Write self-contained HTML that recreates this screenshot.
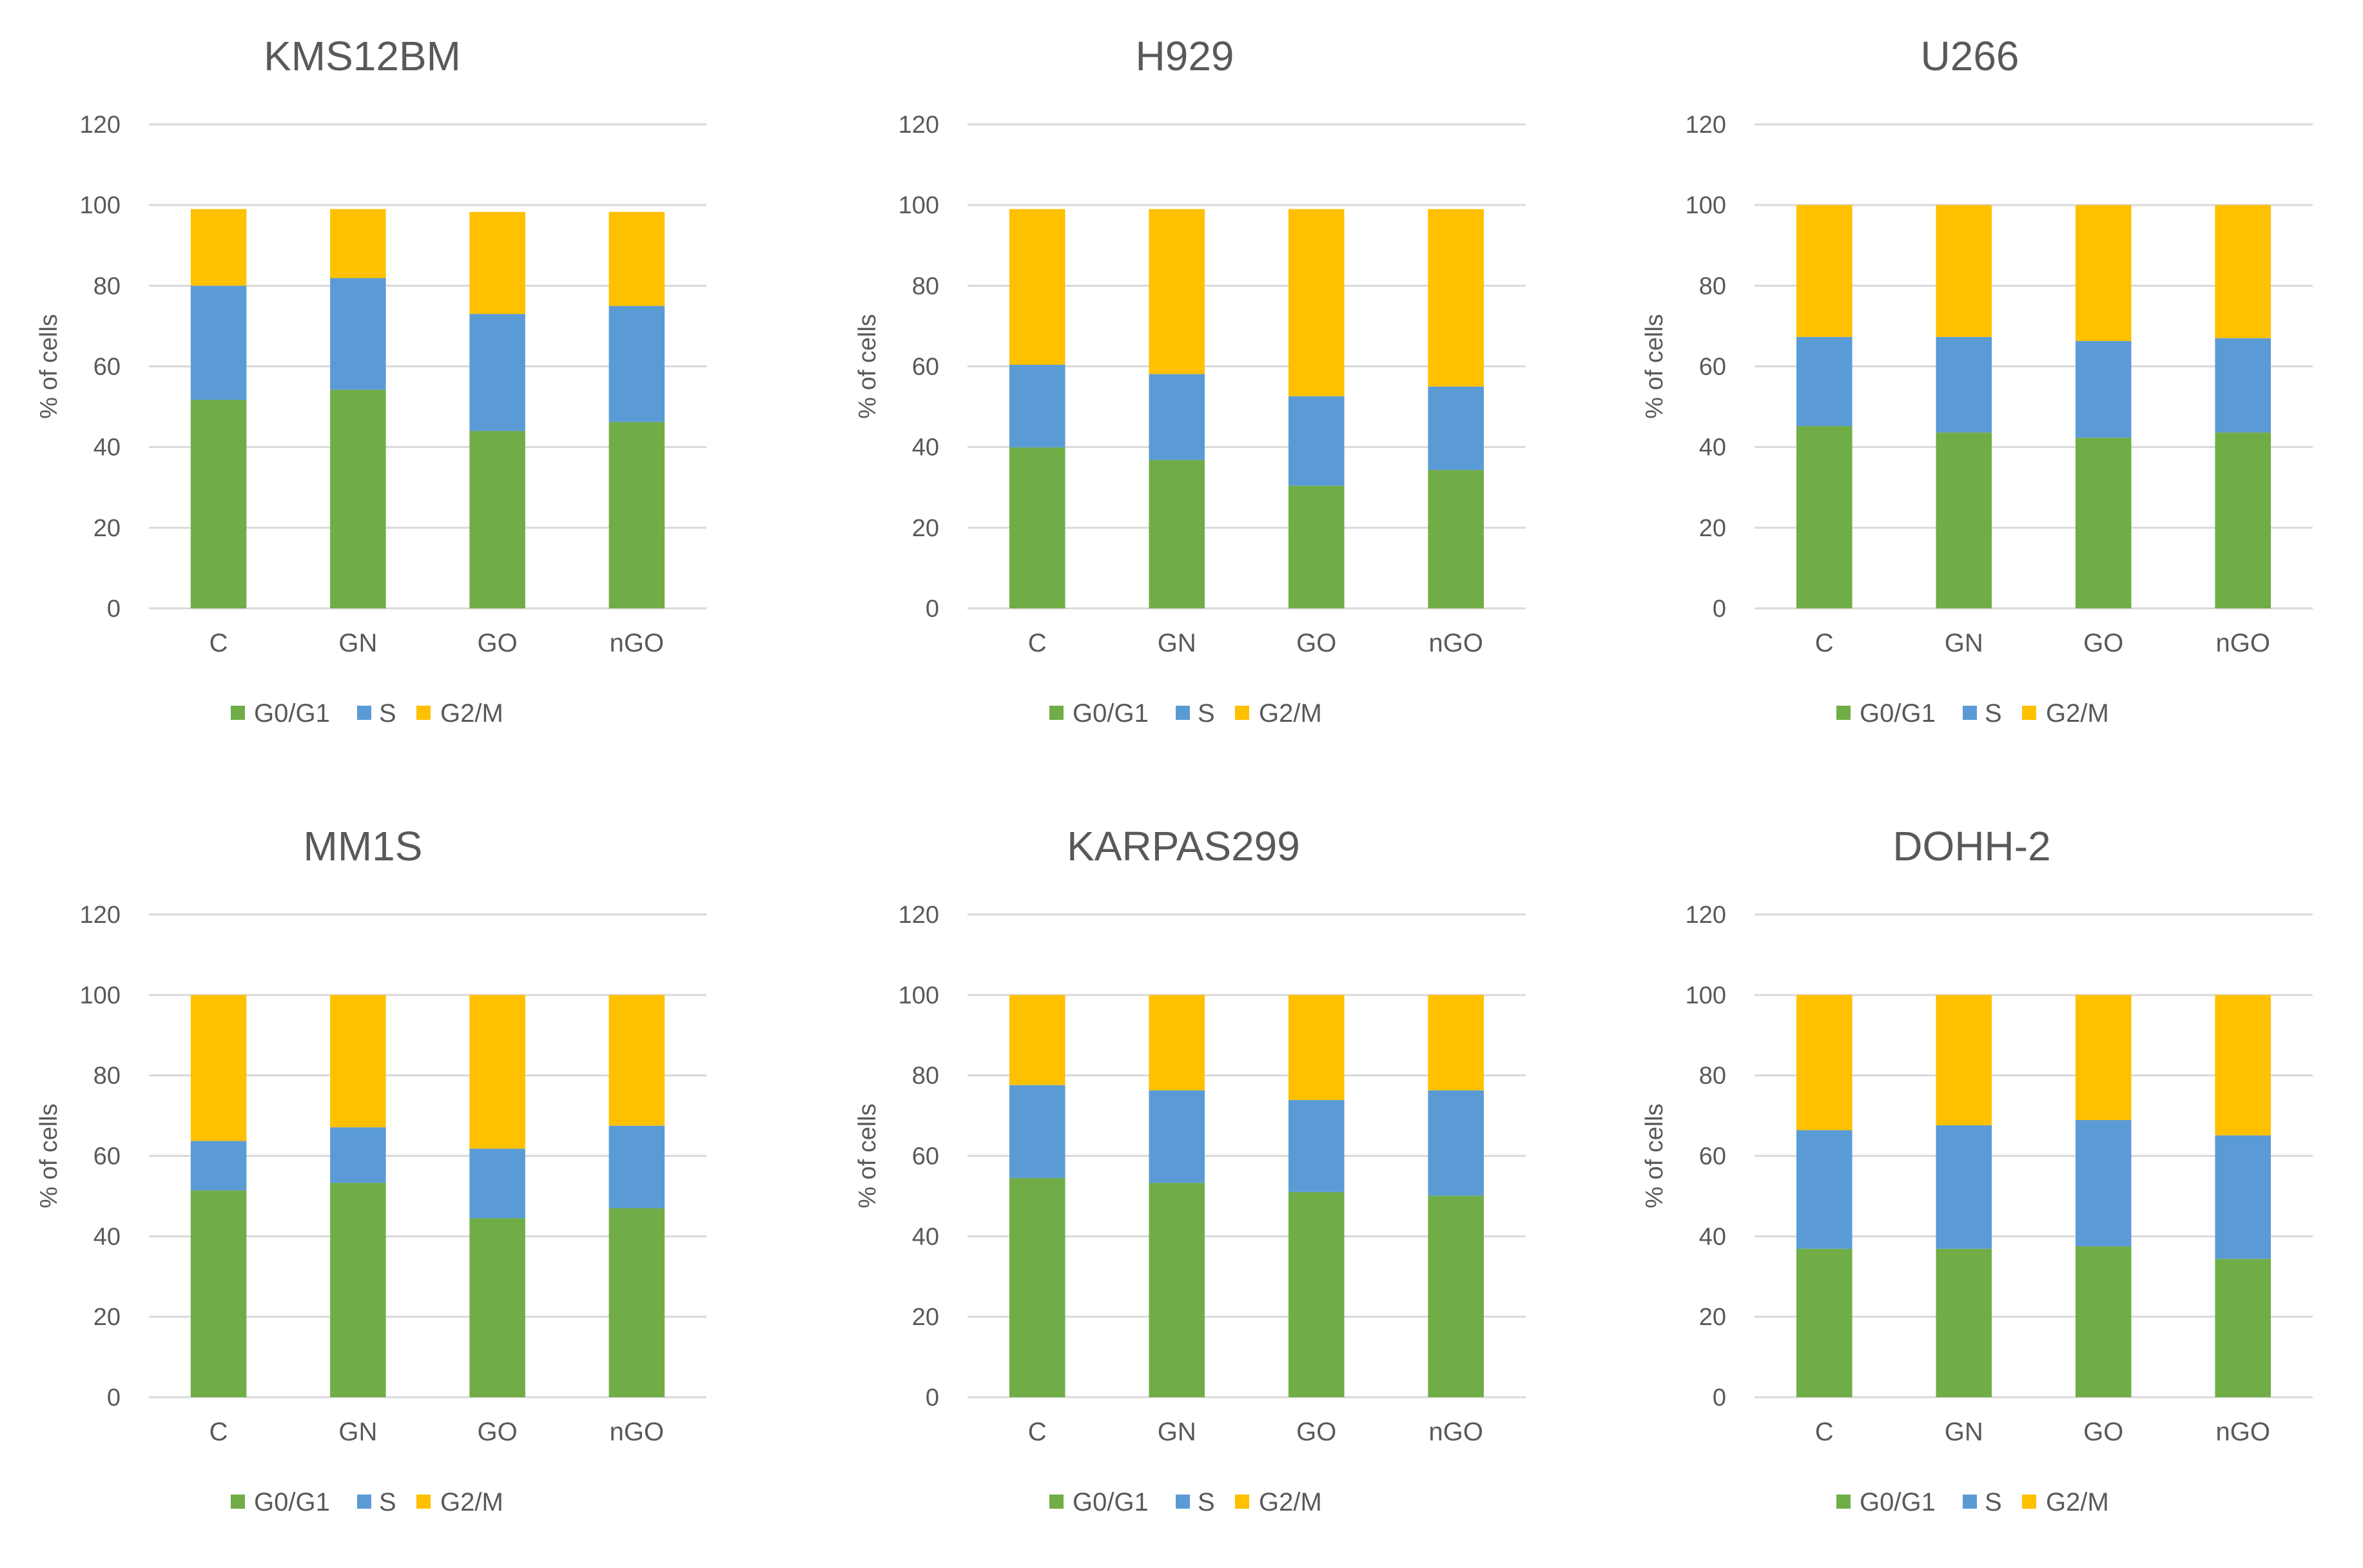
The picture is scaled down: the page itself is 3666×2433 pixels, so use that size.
<!DOCTYPE html>
<html><head><meta charset="utf-8"><style>
html,body{margin:0;padding:0;background:#fff;}
svg{display:block;}
text{font-family:"Liberation Sans",sans-serif;fill:#595959;}
</style></head><body>
<svg id="chart" width="3666" height="2433" viewBox="0 0 3666 2433" xmlns="http://www.w3.org/2000/svg"></svg>
<script>
const categories = ["C","GN","GO","nGO"];
const yTicks = [0,20,40,60,80,100,120];
const seriesNames = ["G0/G1","S","G2/M"];
const panelTitles = ["KMS12BM","H929","U266","MM1S","KARPAS299","DOHH-2"];
const g0KMS = [51.7,54.2,44,46.2];
const sKMS  = [28.3,27.7,29,28.8];
const g2KMS = [19,17.1,25.3,23.3];
const g0H929 = [39.9,36.8,30.4,34.3];
const sH929  = [20.5,21.3,22.2,20.7];
const g2H929 = [38.6,40.9,46.4,44];
const g0U266 = [45.2,43.6,42.3,43.6];
const sU266  = [22.1,23.7,24,23.4];
const g2U266 = [32.7,32.7,33.7,33];
const g0MM1S = [51.4,53.3,44.5,47];
const sMM1S  = [12.3,13.8,17.3,20.5];
const g2MM1S = [36.3,32.9,38.2,32.5];
const g0KAR = [54.5,53.3,51,50.1];
const sKAR  = [23.1,23,22.9,26.2];
const g2KAR = [22.4,23.7,26.1,23.7];
const g0DOHH = [36.9,36.9,37.5,34.4];
const sDOHH  = [29.5,30.7,31.4,30.7];
const g2DOHH = [33.6,32.4,31.1,34.9];

const panelData = [
  [g0KMS,sKMS,g2KMS],[g0H929,sH929,g2H929],[g0U266,sU266,g2U266],
  [g0MM1S,sMM1S,g2MM1S],[g0KAR,sKAR,g2KAR],[g0DOHH,sDOHH,g2DOHH]
];
const colors = ["#70AD47","#5B9BD5","#FFC000"];
const boxes = [
  {l:231,r:1096,t:193,b:944,tc:562},{l:1501,r:2367,t:193,b:944,tc:1838},{l:2722,r:3588,t:193,b:944,tc:3056},
  {l:231,r:1096,t:1419,b:2168,tc:563},{l:1501,r:2367,t:1419,b:2168,tc:1836},{l:2722,r:3588,t:1419,b:2168,tc:3059}
];
const NS="http://www.w3.org/2000/svg";
const svg=document.getElementById("chart");
function mk(tag,attrs,parent,txt){
  const e=document.createElementNS(NS,tag);
  for(const k in attrs) e.setAttribute(k,attrs[k]);
  if(txt!==undefined) e.textContent=txt;
  parent.appendChild(e); return e;
}
boxes.forEach((bx,pi)=>{
  const g=mk("g",{},svg);
  
  
  const yScale=v=>bx.b-(v/120)*(bx.b-bx.t);
  const band=(bx.r-bx.l)/categories.length;
  const xCenter=i=>bx.l+band*(i+0.5);
  const bw=band*0.4;
  const t=mk("text",{x:bx.tc,y:bx.t-84,"text-anchor":"middle","font-size":64},g,panelTitles[pi]);
  
  
  yTicks.forEach(v=>{
    const ln=mk("line",{x1:bx.l,x2:bx.r,y1:yScale(v),y2:yScale(v),stroke:"#d9d9d9","stroke-width":3},g);
    
    
    const tl=mk("text",{x:bx.l-44,y:yScale(v)+13,"text-anchor":"end","font-size":38},g,String(v));
    
    
  });
  const yt=mk("text",{x:0,y:0,"text-anchor":"middle","font-size":38,transform:`translate(${bx.l-143},${(bx.t+bx.b)/2}) rotate(-90)`},g,"% of cells");
  
  
  const d=panelData[pi];
  categories.forEach((c,i)=>{
    let base=0;
    d.forEach((ser,si)=>{
      const v=ser[i];
      const r=mk("rect",{x:xCenter(i)-bw/2,y:yScale(base+v),width:bw,height:yScale(base)-yScale(base+v),fill:colors[si]},g);
      
      
      base+=v;
    });
    const xl=mk("text",{x:xCenter(i),y:bx.b+67,"text-anchor":"middle","font-size":40},g,c);
    
    
  });
  const offs=[[127,163],[323,357],[415,452]];
  const ly=bx.b+162;
  seriesNames.forEach((n,si)=>{
    const sq=mk("rect",{x:bx.l+offs[si][0],y:ly-11,width:22,height:22,fill:colors[si]},g);
    
    
    const lt=mk("text",{x:bx.l+offs[si][1],y:ly+14,"font-size":40},g,n);
    
    
  });
});
</script>
</body></html>
